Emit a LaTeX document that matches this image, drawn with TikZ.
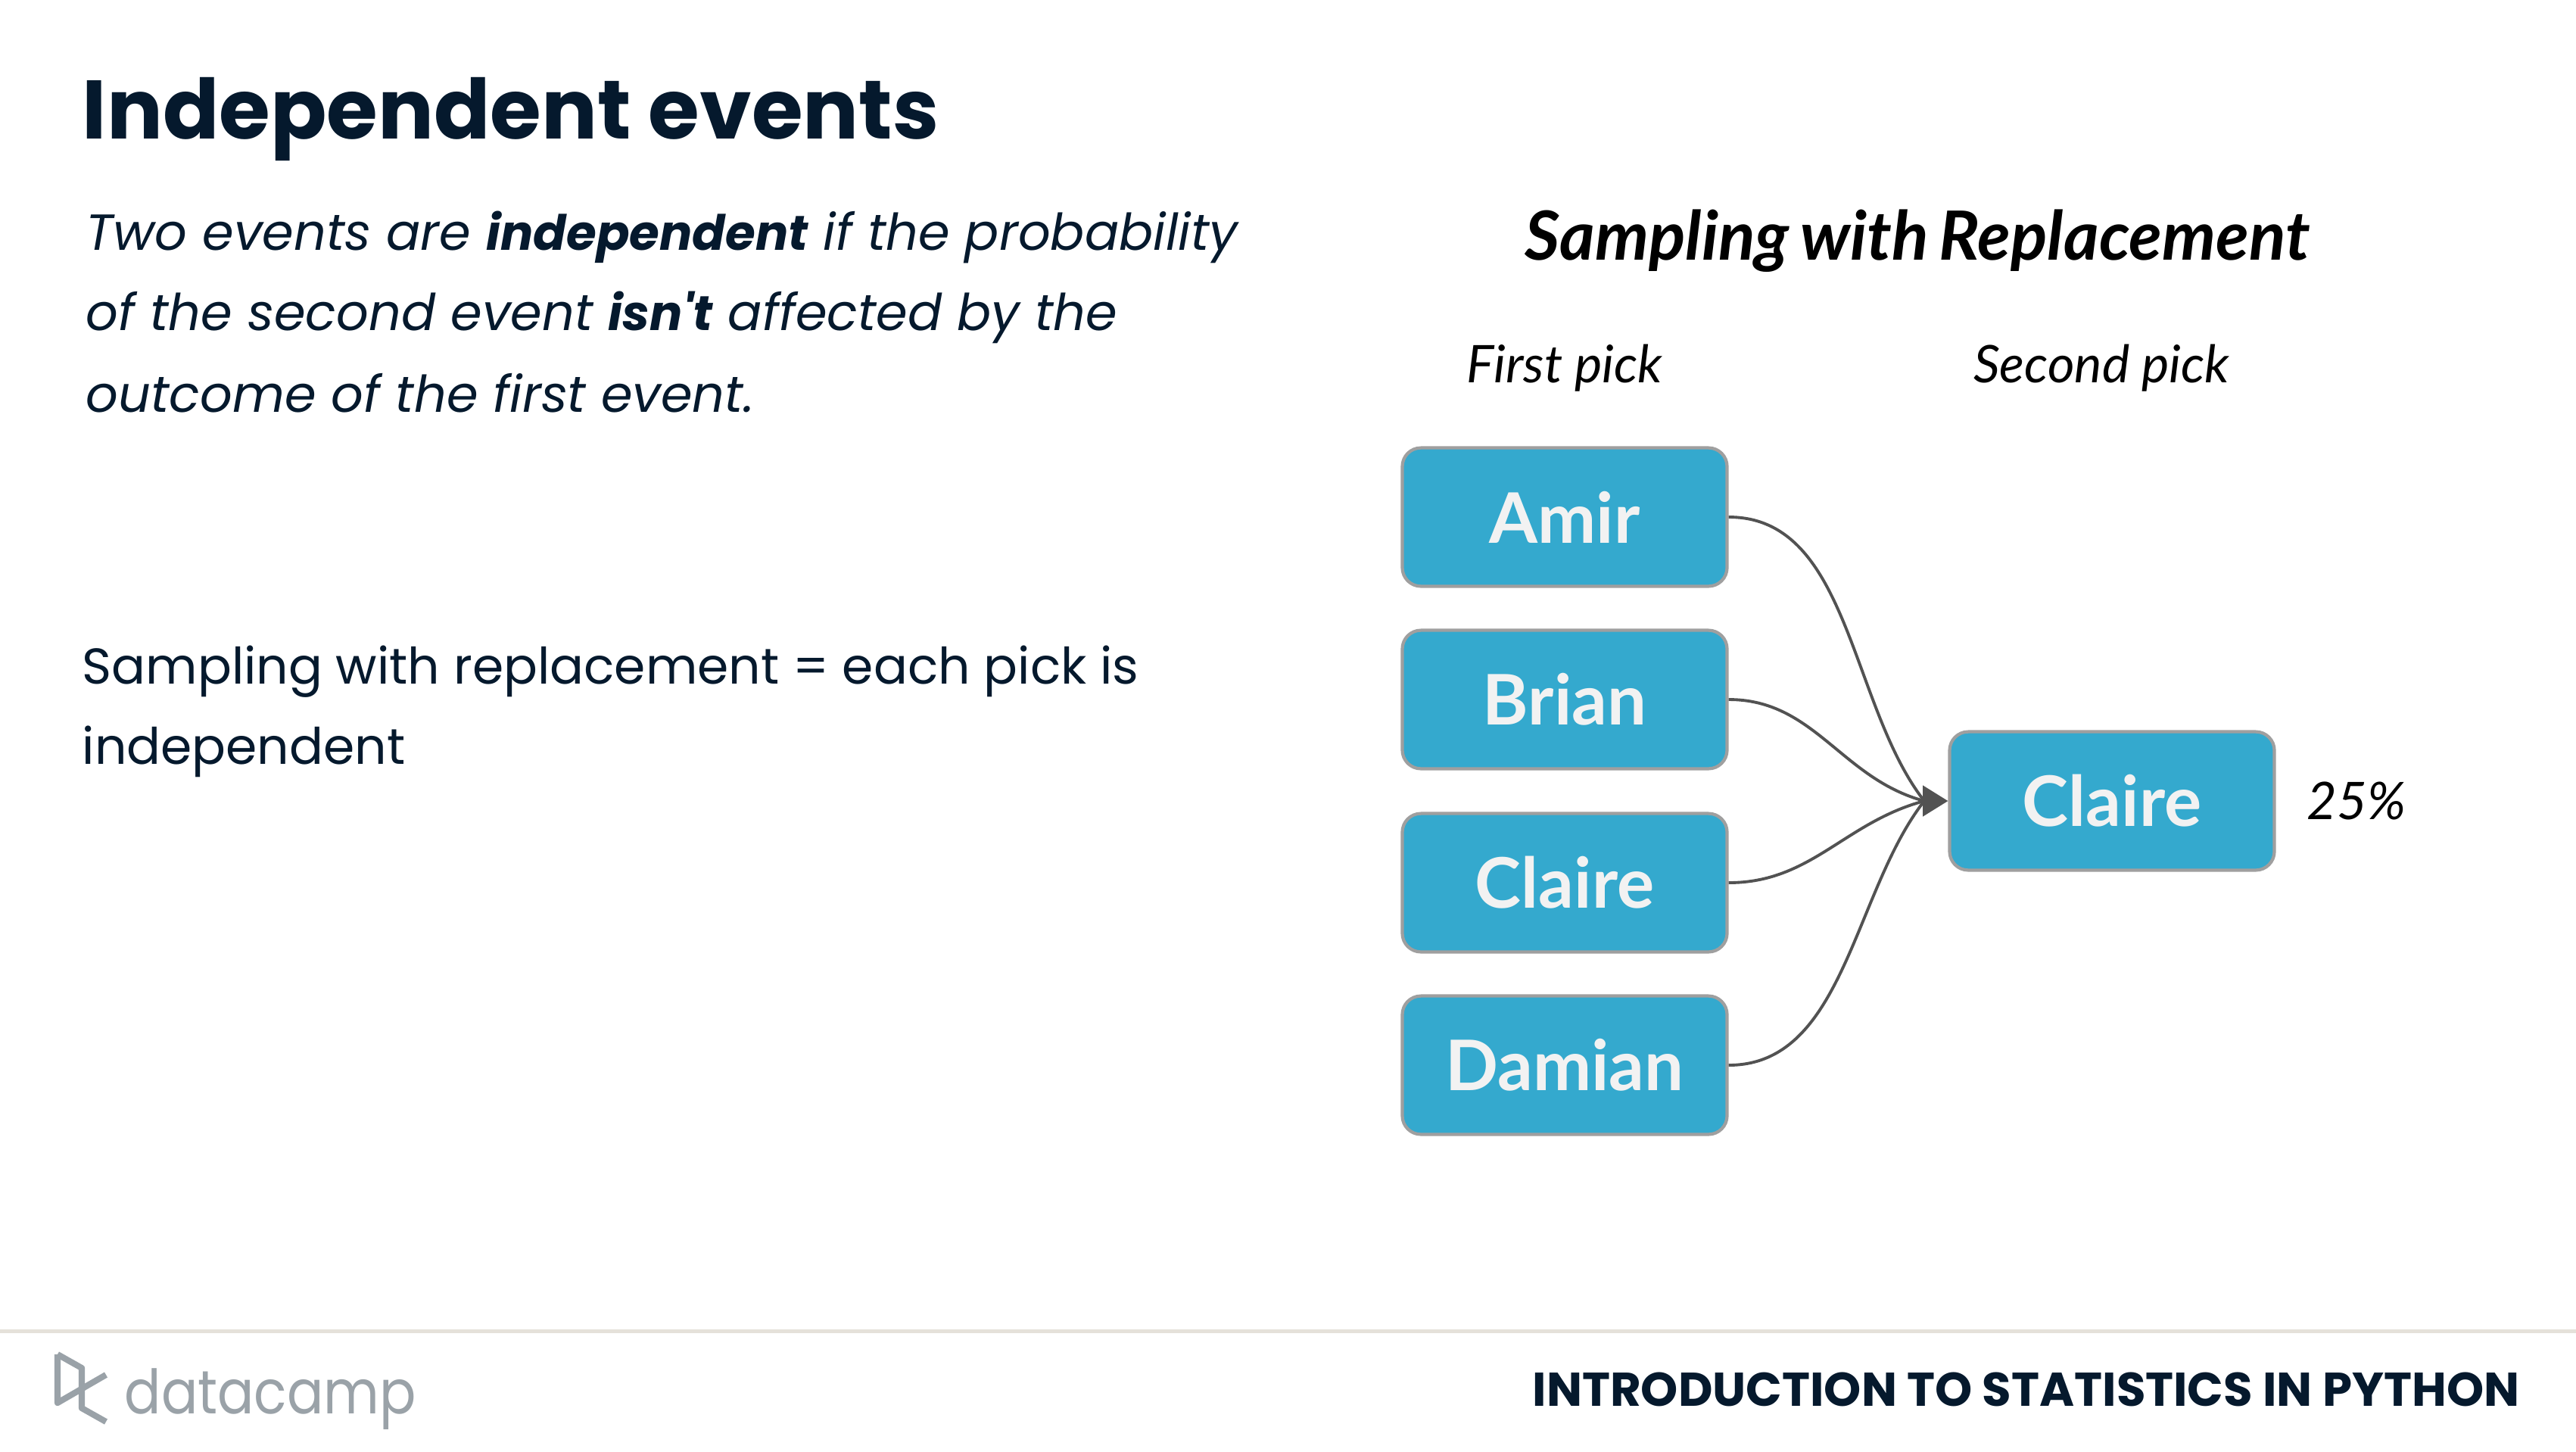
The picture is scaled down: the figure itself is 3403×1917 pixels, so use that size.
\documentclass[tikz,border=0pt]{standalone}
\usepackage{fontspec}
\usepackage{graphicx}
\setmainfont{Poppins}
\newfontfamily\latofont{Lato}
\usetikzlibrary{arrows.meta,positioning}
\definecolor{navy}{HTML}{05192D}
\definecolor{boxblue}{HTML}{34A9CE}
\definecolor{logogray}{HTML}{9AA2A8}
\definecolor{rulegray}{HTML}{E5E1DA}
\newcommand{\heavyword}[1]{{\fontsize{18.3}{18.3}\selectfont\bfseries #1}}
\tikzset{
  x=0.01cm,y=-0.01cm,
  namebox/.style={draw=gray!75,line width=1.2pt,fill=boxblue,rounded corners=7pt,minimum width=122pt,minimum height=52pt,inner sep=0pt,text=white!95!black,font=\latofont\bfseries\fontsize{26.2}{26.2}\selectfont},
  link/.style={draw=black!68,line width=1.1pt},
  slidetext/.style={anchor=base west,inner sep=0pt,text=navy,font=\fontsize{18.9}{18.9}\selectfont},
  slideital/.style={slidetext,font=\itshape\fontsize{19.05}{19.05}\selectfont},
  picktext/.style={anchor=base,inner sep=0pt,font=\latofont\itshape\fontsize{19.5}{19.5}\selectfont},
}
\begin{document}
\begin{tikzpicture}
\useasboundingbox (0,0) rectangle (3403,1917);
\fill[white] (0,0) rectangle (3403,1917);
% left column
\node[slidetext,font=\bfseries\fontsize{31.2}{31.2}\selectfont] (title) at (108,183) {Independent events};
\node[slideital] (lineA) at (113,330) {Two events are \heavyword{independent} if the probability};
\node[slideital] (lineB) at (113,436) {of the second event \heavyword{isn\textquotesingle t} affected by the};
\node[slideital] (lineC) at (113,544) {outcome of the first event.};
\node[slidetext] (lineD) at (108,903) {Sampling with replacement = each pick is};
\node[slidetext] (lineE) at (108,1009) {independent};
% right column
\node[picktext,font=\latofont\bfseries\itshape\fontsize{25.5}{25.5}\selectfont] (heading) at (2533,343) {\spaceskip=.16em\relax Sampling with Replacement};
\node[picktext] (firstpick) at (2067,505) {First pick};
\node[picktext] (secondpick) at (2776,505) {Second pick};
\node[namebox] (amir) at (2067,683) {Amir};
\node[namebox] (brian) at (2067,924) {Brian};
\node[namebox] (claire) at (2067,1166) {Claire};
\node[namebox] (damian) at (2067,1407) {Damian};
\node[namebox] (second) at (2790,1058) {Claire};
\node[picktext,anchor=west] (percent) at (3047,1058) {25\%};
\coordinate (merge) at (2542,1058);
\foreach\name/\ang/\loose in {amir/128/0.9,brian/165/1.0,claire/195/1.0,damian/232/0.9} {
  \draw[link] (\name.east) to[out=0,in=\ang,looseness=\loose] (merge);
}
\draw[link,-{Triangle[length=9.5pt,width=11.5pt]}] (merge) -- (second.west);
% footer
\fill[rulegray] (0,1755.5) rectangle (3403,1760.5);
\draw[logogray,line width=2.3pt,line join=round] (76,1789) -- (76,1853) -- (140,1816);
\draw[logogray,line width=2.3pt,line join=round] (76,1789) -- (108,1807) -- (108,1860) -- (140,1878);
\node[anchor=base west,inner sep=0pt,text=logogray,font=\fontsize{23}{23}\selectfont] (brand) at (164,1867) {\scalebox{0.885}[1]{datacamp}};
\node[anchor=base east,inner sep=0pt,text=navy,font=\bfseries\fontsize{17.8}{17.8}\selectfont] (course) at (3329,1857) {INTRODUCTION TO STATISTICS IN PYTHON};
\end{tikzpicture}
\end{document}
